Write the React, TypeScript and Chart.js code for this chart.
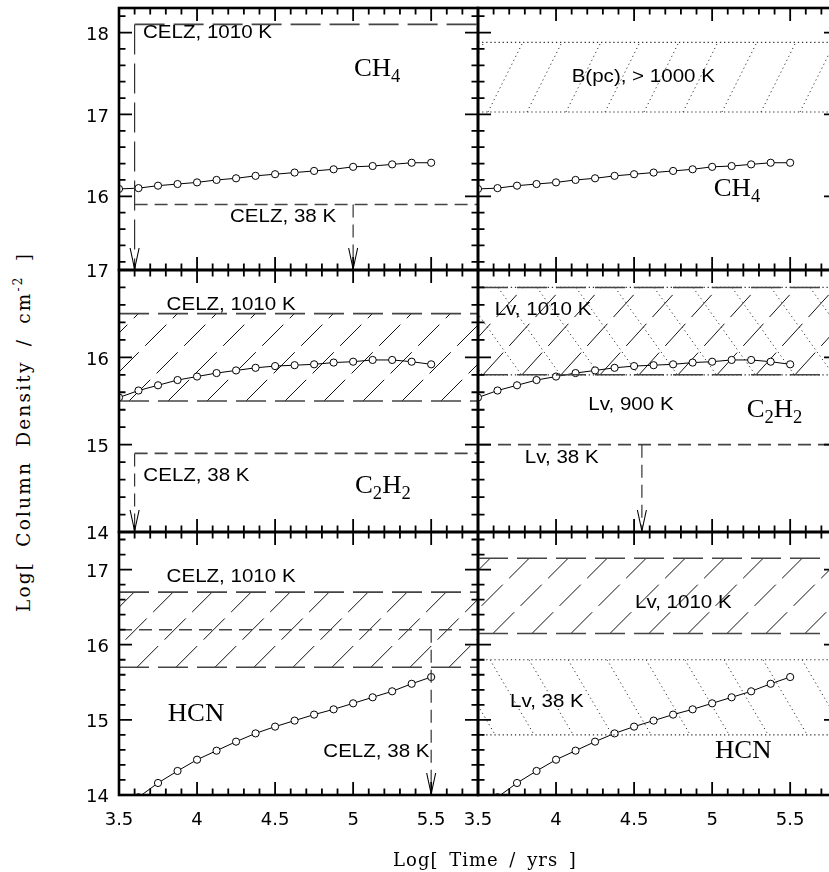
import React, { useEffect, useRef } from 'react';
import { Chart, registerables } from 'chart.js';

Chart.register(...registerables);

// ---------------- data ----------------
const timeLog = [3.5, 3.625, 3.75, 3.875, 4.0, 4.125, 4.25, 4.375, 4.5, 4.625, 4.75, 4.875, 5.0, 5.125, 5.25, 5.375, 5.5];
const ch4Model = [16.09, 16.1, 16.13, 16.15, 16.17, 16.2, 16.22, 16.25, 16.27, 16.29, 16.31, 16.33, 16.36, 16.37, 16.39, 16.41, 16.41];
const c2h2Model = [15.54, 15.62, 15.68, 15.74, 15.78, 15.82, 15.85, 15.88, 15.9, 15.91, 15.92, 15.94, 15.95, 15.97, 15.97, 15.95, 15.92];
const hcnModel = [13.77, 13.97, 14.16, 14.32, 14.47, 14.59, 14.71, 14.82, 14.91, 14.99, 15.07, 15.14, 15.22, 15.3, 15.38, 15.48, 15.57];

const xRange = [3.5, 5.8];
const xTickValues = [3.5, 4, 4.5, 5, 5.5];
const xTickLabels = ['3.5', '4', '4.5', '5', '5.5'];
const yRangeCH4 = [15.1, 18.3];
const yRangeC2H2 = [14, 17];
const yRangeHCN = [14, 17.5];

// observational constraints: limits are [log t, log N], ranges are [low, high]
const ch4CelzHot = [3.6, 18.1];
const ch4CelzCold = [5.0, 15.9];
const ch4BpcRange = [17.03, 17.88];
const c2h2CelzHotRange = [15.5, 16.5];
const c2h2CelzCold = [3.6, 14.9];
const c2h2LvHotRange = [15.8, 16.8];
const c2h2LvWarmRange = [15.8, 16.8];
const c2h2LvCold = [4.55, 15.0];
const hcnCelzHotRange = [15.7, 16.7];
const hcnCelzCold = [5.5, 16.2];
const hcnLvHotRange = [16.15, 17.15];
const hcnLvColdRange = [14.8, 15.8];

// ---------------- styles ----------------
const LONG_DASH = [30, 9];
const SHORT_DASH = [13, 7];
const DOTS = [1.3, 2.8];

interface HLine { from: number; level: number; dash: number[] }
interface Drop { at: number; level: number; dash: number[] }
interface Band { range: number[]; dotted: boolean; dir: number; slope: number; phase: number }
interface Label { x: number; y: number; text: string; chem?: boolean }
interface Spec {
  key: string; col: number; row: number; yRange: number[]; model: number[];
  lines: HLine[]; drops: Drop[]; bands: Band[]; labels: Label[];
}

const specs: Spec[] = [
  {
    key: 'ch4-celz', col: 0, row: 0, yRange: yRangeCH4, model: ch4Model,
    lines: [
      { from: ch4CelzHot[0], level: ch4CelzHot[1], dash: LONG_DASH },
      { from: ch4CelzHot[0], level: ch4CelzCold[1], dash: SHORT_DASH },
    ],
    drops: [
      { at: ch4CelzHot[0], level: ch4CelzHot[1], dash: LONG_DASH },
      { at: ch4CelzCold[0], level: ch4CelzCold[1], dash: SHORT_DASH },
    ],
    bands: [],
    labels: [
      { x: 3.654, y: 17.93, text: 'CELZ, 1010 K' },
      { x: 4.211, y: 15.69, text: 'CELZ, 38 K' },
      { x: 5.005, y: 17.47, text: 'CH_4', chem: true },
    ],
  },
  {
    key: 'ch4-bpc', col: 1, row: 0, yRange: yRangeCH4, model: ch4Model,
    lines: [], drops: [],
    bands: [{ range: ch4BpcRange, dotted: true, dir: 1, slope: 2, phase: 10 }],
    labels: [
      { x: 4.1, y: 17.4, text: 'B(pc), > 1000 K' },
      { x: 5.01, y: 16.0, text: 'CH_4', chem: true },
    ],
  },
  {
    key: 'c2h2-celz', col: 0, row: 1, yRange: yRangeC2H2, model: c2h2Model,
    lines: [{ from: c2h2CelzCold[0], level: c2h2CelzCold[1], dash: SHORT_DASH }],
    drops: [{ at: c2h2CelzCold[0], level: c2h2CelzCold[1], dash: SHORT_DASH }],
    bands: [{ range: c2h2CelzHotRange, dotted: false, dir: 1, slope: 1, phase: 10 }],
    labels: [
      { x: 3.805, y: 16.54, text: 'CELZ, 1010 K' },
      { x: 3.656, y: 14.587, text: 'CELZ, 38 K' },
      { x: 5.012, y: 14.443, text: 'C_2H_2', chem: true },
    ],
  },
  {
    key: 'c2h2-lv', col: 1, row: 1, yRange: yRangeC2H2, model: c2h2Model,
    lines: [{ from: xRange[0], level: c2h2LvCold[1], dash: SHORT_DASH }],
    drops: [{ at: c2h2LvCold[0], level: c2h2LvCold[1], dash: SHORT_DASH }],
    bands: [
      { range: c2h2LvHotRange, dotted: false, dir: 1, slope: 1.1, phase: 5 },
      { range: c2h2LvWarmRange, dotted: true, dir: -1, slope: 1.4, phase: 20 },
    ],
    labels: [
      { x: 3.607, y: 16.485, text: 'Lv, 1010 K' },
      { x: 4.207, y: 15.397, text: 'Lv, 900 K' },
      { x: 5.221, y: 15.32, text: 'C_2H_2', chem: true },
      { x: 3.8, y: 14.794, text: 'Lv, 38 K' },
    ],
  },
  {
    key: 'hcn-celz', col: 0, row: 2, yRange: yRangeHCN, model: hcnModel,
    lines: [{ from: xRange[0], level: hcnCelzCold[1], dash: SHORT_DASH }],
    drops: [{ at: hcnCelzCold[0], level: hcnCelzCold[1], dash: SHORT_DASH }],
    bands: [{ range: hcnCelzHotRange, dotted: false, dir: 1, slope: 1, phase: 18 }],
    labels: [
      { x: 3.805, y: 16.83, text: 'CELZ, 1010 K' },
      { x: 3.812, y: 14.99, text: 'HCN', chem: true },
      { x: 4.809, y: 14.5, text: 'CELZ, 38 K' },
    ],
  },
  {
    key: 'hcn-lv', col: 1, row: 2, yRange: yRangeHCN, model: hcnModel,
    lines: [], drops: [],
    bands: [
      { range: hcnLvHotRange, dotted: false, dir: 1, slope: 1, phase: 15 },
      { range: hcnLvColdRange, dotted: true, dir: -1, slope: 1.7, phase: 12 },
    ],
    labels: [
      { x: 4.506, y: 16.485, text: 'Lv, 1010 K' },
      { x: 3.705, y: 15.175, text: 'Lv, 38 K' },
      { x: 5.018, y: 14.488, text: 'HCN', chem: true },
    ],
  },
];

// ---------------- layout ----------------
const COL_X = [119, 478];
const PANEL_W = 359;
const ROW_Y = [8, 270, 532];
const ROW_H = [262, 262, 263];
const MT = 15;
const MR = 15;

function geometry(s: Spec) {
  const ml = s.col === 0 ? 60 : 30;
  const mb = s.row === 2 ? 60 : 15;
  return {
    ml, mb,
    left: COL_X[s.col] - ml,
    top: ROW_Y[s.row] - MT,
    w: ml + PANEL_W + MR,
    h: MT + ROW_H[s.row] + mb,
  };
}

function chemParts(t: string) {
  const parts: { ch: string; sub: boolean }[] = [];
  for (let i = 0; i < t.length; i++) {
    if (t[i] === '_') { parts.push({ ch: t[i + 1], sub: true }); i++; }
    else parts.push({ ch: t[i], sub: false });
  }
  return parts;
}

function makeDecor(spec: Spec) {
  return {
    id: 'decor',
    beforeDatasetsDraw(chart: any) {
      const { ctx, chartArea: a } = chart;
      const ys = chart.scales.y;
      for (const b of spec.bands) {
        const yTop = ys.getPixelForValue(b.range[1]);
        const yBot = ys.getPixelForValue(b.range[0]);
        const H = yBot - yTop;
        const run = H / b.slope;
        const spacing = 39;
        ctx.save();
        ctx.beginPath();
        ctx.rect(a.left, yTop, a.right - a.left, H);
        ctx.clip();
        ctx.strokeStyle = b.dotted ? '#333' : '#111';
        ctx.lineWidth = 1;
        ctx.setLineDash(b.dotted ? [1.2, 3.2] : LONG_DASH);
        let start = a.left + b.phase;
        while (start > a.left - run - 2) start -= spacing;
        for (let x = start; x < a.right + spacing; x += spacing) {
          ctx.beginPath();
          if (b.dir > 0) { ctx.moveTo(x, yBot); ctx.lineTo(x + run, yTop); }
          else { ctx.moveTo(x, yTop); ctx.lineTo(x + run, yBot); }
          ctx.stroke();
        }
        ctx.restore();
      }
    },
    afterDatasetsDraw(chart: any) {
      const { ctx, chartArea: a } = chart;
      const xs = chart.scales.x;
      const ys = chart.scales.y;
      ctx.save();
      // arrow heads of the upper-limit drops
      ctx.setLineDash([]);
      ctx.strokeStyle = '#000';
      ctx.lineWidth = 1.1;
      for (const d of spec.drops) {
        const px = xs.getPixelForValue(d.at);
        const pb = a.bottom;
        ctx.beginPath();
        ctx.moveTo(px - 4.5, pb - 22);
        ctx.lineTo(px, pb - 1);
        ctx.lineTo(px + 4.5, pb - 22);
        ctx.stroke();
      }
      // text labels
      ctx.fillStyle = '#000';
      for (const lb of spec.labels) {
        const px = xs.getPixelForValue(lb.x);
        const py = ys.getPixelForValue(lb.y);
        ctx.save();
        ctx.translate(px, py);
        ctx.textAlign = 'left';
        ctx.textBaseline = 'alphabetic';
        if (!lb.chem) {
          ctx.scale(1.11, 1);
          ctx.font = '18.5px "Liberation Sans", Arial, sans-serif';
          ctx.fillText(lb.text, 0, 0);
        } else {
          ctx.scale(1.03, 1);
          let cx = 0;
          for (const p of chemParts(lb.text)) {
            ctx.font = p.sub ? '18px "Liberation Serif", serif' : '26px "Liberation Serif", serif';
            ctx.fillText(p.ch, cx, p.sub ? 6 : 0);
            cx += ctx.measureText(p.ch).width;
          }
        }
        ctx.restore();
      }
      // inward tick marks
      ctx.strokeStyle = '#000';
      ctx.lineWidth = 1.8;
      ctx.beginPath();
      for (let i = 35; i <= 58; i++) {
        const v = i / 10;
        const len = i % 5 === 0 ? 13 : 6.5;
        const px = xs.getPixelForValue(v);
        ctx.moveTo(px, a.top); ctx.lineTo(px, a.top + len);
        ctx.moveTo(px, a.bottom); ctx.lineTo(px, a.bottom - len);
      }
      const i0 = Math.ceil(spec.yRange[0] * 5 - 1e-6);
      const i1 = Math.floor(spec.yRange[1] * 5 + 1e-6);
      for (let i = i0; i <= i1; i++) {
        const v = i / 5;
        const len = i % 5 === 0 ? 13 : 6.5;
        const py = ys.getPixelForValue(v);
        ctx.moveTo(a.left, py); ctx.lineTo(a.left + len, py);
        ctx.moveTo(a.right, py); ctx.lineTo(a.right - len, py);
      }
      ctx.stroke();
      // frame
      ctx.lineWidth = 2.6;
      ctx.strokeRect(a.left, a.top, a.right - a.left, a.bottom - a.top);
      ctx.restore();
    },
  };
}

function buildChart(canvas: HTMLCanvasElement, spec: Spec) {
  const g = geometry(spec);
  const showX = spec.row === 2;
  const showY = spec.col === 0;
  const datasets: any[] = [];
  const base = { pointRadius: 0, fill: false, clip: 0, tension: 0, borderCapStyle: 'butt' };
  for (const b of spec.bands) {
    for (const lv of b.range) {
      datasets.push({
        ...base,
        data: [{ x: xRange[0], y: lv }, { x: xRange[1], y: lv }],
        borderColor: b.dotted ? '#333' : '#444',
        borderWidth: b.dotted ? 1.2 : 1.6,
        borderDash: b.dotted ? DOTS : LONG_DASH,
      });
    }
  }
  for (const l of spec.lines) {
    datasets.push({
      ...base,
      data: [{ x: l.from, y: l.level }, { x: xRange[1], y: l.level }],
      borderColor: '#444', borderWidth: 1.6, borderDash: l.dash,
    });
  }
  for (const d of spec.drops) {
    datasets.push({
      ...base,
      data: [{ x: d.at, y: d.level }, { x: d.at, y: spec.yRange[0] }],
      borderColor: '#333', borderWidth: 1.2, borderDash: d.dash,
    });
  }
  datasets.push({
    data: timeLog.map((t, i) => ({ x: t, y: spec.model[i] })),
    borderColor: '#000', borderWidth: 1, tension: 0, fill: false, clip: 0,
    pointRadius: 3.6, pointBorderWidth: 1, pointBorderColor: '#000', pointBackgroundColor: '#fff',
  });

  return new Chart(canvas, {
    type: 'line',
    data: { datasets },
    options: {
      animation: false,
      responsive: false,
      maintainAspectRatio: false,
      devicePixelRatio: 1,
      events: [],
      layout: { padding: { left: 0, top: MT, right: MR, bottom: showX ? 0 : g.mb } },
      plugins: { legend: { display: false }, tooltip: { enabled: false } },
      scales: {
        x: {
          type: 'linear', min: xRange[0], max: xRange[1],
          grid: { display: false, drawTicks: false },
          border: { display: false },
          ticks: {
            display: showX, stepSize: 0.5, autoSkip: false, maxRotation: 0, padding: 15,
            color: '#000', font: { family: 'DejaVu Sans', size: 18 },
            callback: (v: any) => {
              const k = xTickValues.findIndex((t) => Math.abs(t - Number(v)) < 1e-6);
              return k >= 0 ? xTickLabels[k] : '';
            },
          },
          afterFit: (s: any) => {
            s.height = showX ? g.mb : 0;
            s.paddingLeft = 0; s.paddingRight = 0; s.paddingTop = 0; s.paddingBottom = 0;
          },
        },
        y: {
          type: 'linear', min: spec.yRange[0], max: spec.yRange[1],
          grid: { display: false, drawTicks: false },
          border: { display: false },
          ticks: {
            display: showY, stepSize: 1, autoSkip: false, padding: 10, labelOffset: 2.5,
            color: '#000', font: { family: 'DejaVu Sans', size: 18 },
            callback: (v: any) => {
              const n = Number(v);
              return Math.abs(n - Math.round(n)) < 1e-6 ? String(Math.round(n)) : '';
            },
          },
          afterFit: (s: any) => {
            s.width = g.ml;
            s.paddingLeft = 0; s.paddingRight = 0; s.paddingTop = 0; s.paddingBottom = 0;
          },
        },
      },
    } as any,
    plugins: [makeDecor(spec)],
  });
}

function Panel({ spec }: { spec: Spec }) {
  const ref = useRef<HTMLCanvasElement>(null);
  useEffect(() => {
    if (!ref.current) return;
    const chart = buildChart(ref.current, spec);
    return () => chart.destroy();
  }, [spec]);
  const g = geometry(spec);
  return (
    <canvas
      ref={ref}
      width={g.w}
      height={g.h}
      style={{ position: 'absolute', left: g.left, top: g.top, width: g.w, height: g.h }}
    />
  );
}

export default function App() {
  return (
    <div style={{ position: 'fixed', left: 0, top: 0, width: 829, height: 872, overflow: 'hidden', background: '#fff' }}>
      {specs.map((s) => <Panel key={s.key} spec={s} />)}
      <div
        style={{
          position: 'absolute', left: 285, top: 850, width: 400, textAlign: 'center',
          fontFamily: '"DejaVu Serif", serif', fontSize: 18, lineHeight: '20px',
          letterSpacing: '1px', wordSpacing: '4px', whiteSpace: 'pre', color: '#000',
        }}
      >
        Log[ Time / yrs ]
      </div>
      <div
        style={{
          position: 'absolute', left: 23.5 - 250, top: 431.5 - 10, width: 500, height: 20,
          textAlign: 'center', transform: 'rotate(-90deg)', transformOrigin: '50% 50%',
          fontFamily: '"DejaVu Serif", serif', fontSize: 18.5, lineHeight: '20px',
          letterSpacing: '2.2px', wordSpacing: '6px', whiteSpace: 'pre', color: '#000',
        }}
      >
        Log[ Column Density / cm<span style={{ fontSize: 12, position: 'relative', top: -8 }}>-2</span> ]
      </div>
    </div>
  );
}
